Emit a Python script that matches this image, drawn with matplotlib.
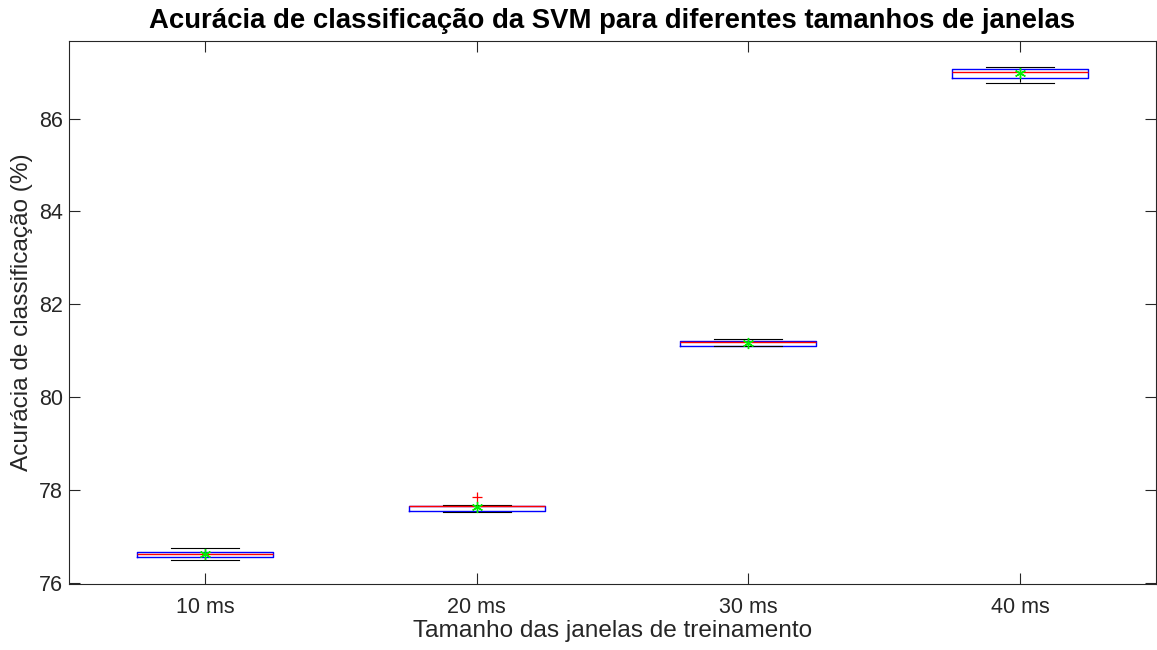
import numpy as np
import matplotlib.pyplot as plt

plt.rcParams['font.family'] = ['Liberation Sans', 'DejaVu Sans']

# Accuracy summary per training window size (%)
windows = ['10 ms', '20 ms', '30 ms', '40 ms']
q_low = [76.502, 77.529, 81.104, 86.775]   # lower whisker
q1 = [76.566, 77.551, 81.104, 86.883]
medians = [76.625, 77.665, 81.184, 87.000]
q3 = [76.668, 77.665, 81.219, 87.070]
q_high = [76.747, 77.686, 81.262, 87.120]  # upper whisker
means = [76.618, 77.630, 81.175, 86.978]
outliers = [[], [77.859], [], []]

axcol = '#262626'

fig = plt.figure(figsize=(11.57, 6.5), dpi=100)
ax = fig.add_axes([0.0596, 0.1015, 0.9395, 0.8355])

stats = []
for i in range(len(windows)):
    stats.append(dict(label=windows[i], whislo=q_low[i], q1=q1[i], med=medians[i],
                      q3=q3[i], whishi=q_high[i], fliers=outliers[i]))

ax.bxp(stats, positions=np.arange(1, 5), widths=0.5, showfliers=True,
       boxprops=dict(color='blue', linewidth=1.0),
       medianprops=dict(color='red', linewidth=1.0),
       whiskerprops=dict(color='black', linewidth=0.8, linestyle='--'),
       capprops=dict(color='black', linewidth=0.8),
       capwidths=0.25,
       flierprops=dict(marker='+', markeredgecolor='red', markersize=7, markeredgewidth=0.9))

# mean of each group
ax.plot(np.arange(1, 5), means, linestyle='none', marker=(6, 2, 0), color='#00ee00',
        markersize=8, markeredgewidth=1.0, zorder=5)

ax.set_xlim(0.5, 4.5)
ax.set_ylim(75.98, 87.67)
ax.set_yticks([76, 78, 80, 82, 84, 86])
ax.set_xticks(np.arange(1, 5))
ax.set_xticklabels(windows)

for s in ax.spines.values():
    s.set_color(axcol)
    s.set_linewidth(0.8)
ax.tick_params(direction='in', length=8, width=0.8, color=axcol, labelcolor=axcol,
               labelsize=15.5, top=True, right=True)
ax.tick_params(axis='x', pad=9)
ax.tick_params(axis='y', pad=4.5)

ax.set_title('Acurácia de classificação da SVM para diferentes tamanhos de janelas',
             fontsize=19.8, fontweight='bold', pad=9)
ax.set_xlabel('Tamanho das janelas de treinamento', fontsize=17.6, color=axcol, labelpad=2)
ax.set_ylabel('Acurácia de classificação (%)', fontsize=17.6, color=axcol, labelpad=4)

fig.savefig('out.png', dpi=100)
